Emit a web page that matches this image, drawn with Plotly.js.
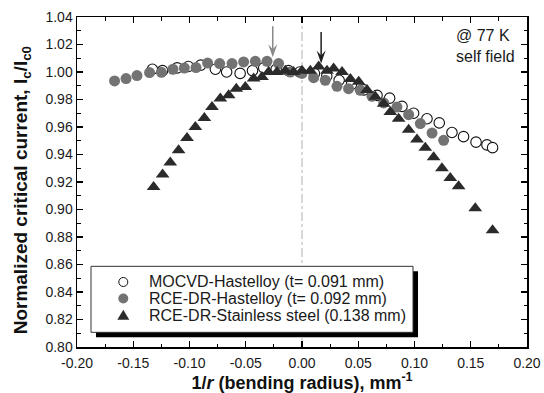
<!DOCTYPE html>
<html>
<head>
<meta charset="utf-8">
<script src="https://cdn.plot.ly/plotly-3.0.1.min.js"></script>
<style>html,body{margin:0;padding:0;background:#fff;}#chart{width:544px;height:393px;}</style>
</head>
<body>
<div id="chart"></div>
<script>
// ---- data ----
const seriesNames = [
  "MOCVD-Hastelloy (t= 0.091 mm)",
  "RCE-DR-Hastelloy (t= 0.092 mm)",
  "RCE-DR-Stainless steel (0.138 mm)"
];
const mocvdX = [-0.133,-0.124,-0.111,-0.101,-0.090,-0.077,-0.067,-0.055,-0.044,-0.034,-0.023,-0.012,-0.002,0.011,0.022,0.033,0.044,0.055,0.0667,0.0779,0.0889,0.0992,0.1111,0.122,0.1333,0.1436,0.1547,0.1644,0.1694];
const mocvdY = [1.002,1.001,1.003,1.004,1.005,1.002,1.000,0.999,1.001,1.003,1.002,1.001,1.000,0.999,0.997,0.994,0.991,0.987,0.983,0.981,0.975,0.970,0.966,0.963,0.956,0.953,0.949,0.947,0.945];
const rceHastX = [-0.1666,-0.1564,-0.1467,-0.1355,-0.125,-0.1147,-0.1046,-0.0942,-0.0839,-0.0732,-0.0622,-0.0519,-0.0415,-0.0311,-0.0208,-0.0104,0.0,0.0103,0.0207,0.0311,0.0414,0.0518,0.0622,0.0726,0.0844,0.0948,0.1052,0.1156,0.1259];
const rceHastY = [0.9935,0.9952,0.9974,0.9996,0.9998,1.002,1.0029,1.0032,1.0065,1.0061,1.0061,1.0073,1.0078,1.0078,1.0061,1.000,0.999,0.9959,0.994,0.9896,0.9879,0.9867,0.9823,0.9775,0.9745,0.969,0.9625,0.9556,0.9503];
const rceSSX = [-0.1319,-0.1239,-0.1171,-0.1097,-0.1022,-0.0948,-0.0868,-0.0800,-0.0726,-0.0652,-0.0584,-0.0504,-0.0430,-0.0356,-0.0297,-0.0222,-0.0148,-0.0075,0.0,0.0074,0.0148,0.0222,0.0281,0.0356,0.0430,0.0504,0.0578,0.0652,0.0726,0.0785,0.0859,0.0948,0.1022,0.1096,0.1170,0.1244,0.1318,0.1392,0.1540,0.1694];
const rceSSY = [0.9164,0.9254,0.9341,0.9431,0.952,0.960,0.9665,0.9745,0.9807,0.9831,0.9879,0.9891,0.9952,0.9964,1.000,1.000,1.001,1.000,1.001,1.001,1.004,1.001,1.0025,1.000,0.995,0.993,0.987,0.982,0.977,0.971,0.966,0.958,0.951,0.945,0.938,0.930,0.923,0.917,0.901,0.885];
// peak arrows: x position, tip value and tail value (gray = RCE-DR-Hastelloy, black = stainless)
const arrowX = [-0.026, 0.017];
const arrowTipY = [1.0107, 1.0061];
const arrowTailY = [1.0332, 1.0291];
const xTickVals = [-0.20,-0.15,-0.10,-0.05,0.00,0.05,0.10,0.15,0.20];
const xTickText = ["-0.20","-0.15","-0.10","-0.05","0.00","0.05","0.10","0.15","0.20"];
const conditionText = ["@ 77 K", "self field"];

const FONT = "Liberation Sans, Arial, Helvetica, sans-serif";
const GRAY = "#737373", DARK = "#2b2b2b";

const traces = [
  {x: mocvdX, y: mocvdY, name: seriesNames[0], type: "scatter", mode: "markers",
   marker: {symbol: "circle", size: 10.5, color: "#ffffff", line: {color: "#111", width: 1.1}}},
  {x: rceHastX, y: rceHastY, name: seriesNames[1], type: "scatter", mode: "markers",
   marker: {symbol: "circle", size: 11, color: GRAY, line: {width: 0}}},
  {x: rceSSX, y: rceSSY, name: seriesNames[2], type: "scatter", mode: "markers",
   marker: {symbol: "triangle-up", size: 12, color: DARK, line: {width: 0}}}
];

// legend block (drawn as shapes + text), positions in paper units
const legBox = {x0: 0.0311, x1: 0.7467, y0: 0.0445, y1: 0.2445};
const legRowsY = [0.197, 0.1467, 0.096];
const legSymX = 0.1029, legTextX = 0.1549;

const arrowColors = ["#8a8a8a", "#1e1e1e"];
const shapes = [
  {type: "line", xref: "x", yref: "paper", x0: 0, x1: 0, y0: 0, y1: 1,
   line: {color: "#c4c4c4", width: 1.3, dash: "dashdot"}, layer: "below"},
  {type: "rect", xref: "paper", yref: "paper", x0: legBox.x0 + 0.0111, x1: legBox.x1 + 0.0111,
   y0: legBox.y0 - 0.0152, y1: legBox.y1 - 0.0152, fillcolor: "#000", line: {width: 0}, layer: "above"},
  {type: "rect", xref: "paper", yref: "paper", x0: legBox.x0, x1: legBox.x1, y0: legBox.y0, y1: legBox.y1,
   fillcolor: "#fff", line: {color: "#333", width: 1}, layer: "above"},
  {type: "circle", xref: "paper", yref: "paper", xsizemode: "pixel", ysizemode: "pixel",
   xanchor: legSymX, yanchor: legRowsY[0], x0: -4.5, x1: 4.5, y0: -4.5, y1: 4.5,
   fillcolor: "#fff", line: {color: "#111", width: 1}, layer: "above"},
  {type: "circle", xref: "paper", yref: "paper", xsizemode: "pixel", ysizemode: "pixel",
   xanchor: legSymX, yanchor: legRowsY[1], x0: -5, x1: 5, y0: -5, y1: 5,
   fillcolor: GRAY, line: {width: 0}, layer: "above"},
  {type: "path", xref: "paper", yref: "paper", xsizemode: "pixel", ysizemode: "pixel",
   xanchor: legSymX, yanchor: legRowsY[2], path: "M-6,-4.5 L6,-4.5 L0,5.5 Z",
   fillcolor: DARK, line: {width: 0}, layer: "above"}
];
arrowX.forEach((ax, i) => {
  shapes.push({type: "line", xref: "x", yref: "y", x0: ax, x1: ax, y0: arrowTipY[i] + 0.004, y1: arrowTailY[i],
    line: {color: arrowColors[i], width: 1.5}, layer: "above"});
  shapes.push({type: "path", xref: "x", yref: "y", xsizemode: "pixel", ysizemode: "pixel",
    xanchor: ax, yanchor: arrowTipY[i], path: "M-4.5,13 L0,8 L4.5,13 L0,0 Z",
    fillcolor: arrowColors[i], line: {width: 0}, layer: "above"});
});

const annotations = [];
seriesNames.forEach((n, i) => annotations.push({
  xref: "paper", yref: "paper", x: legTextX, y: legRowsY[i], xanchor: "left", yanchor: "middle",
  text: n, showarrow: false, font: {family: FONT, size: 16, color: "#1a1a1a"}
}));
annotations.push({
  xref: "paper", yref: "paper", x: 0.8378, y: 0.9127, xanchor: "left", yanchor: "middle", align: "left",
  text: conditionText.join("<br>"), showarrow: false, font: {family: FONT, size: 16, color: "#1a1a1a"}
});
// y-axis title (placed as rotated text to match the reference position)
annotations.push({
  xref: "paper", yref: "paper", x: -0.1222, y: 0.4748, xanchor: "center", yanchor: "middle",
  textangle: -90, showarrow: false,
  text: "<b>Normalized critical current, I<sub>c</sub>/I<sub>c0</sub></b>",
  font: {family: FONT, size: 19, color: "#111"}
});

const axisCommon = {
  showgrid: false, zeroline: false, showline: true, linecolor: "#000", linewidth: 1.5,
  mirror: "ticks", ticks: "inside", ticklen: 6, tickwidth: 1.2, tickcolor: "#000",
  tickfont: {family: FONT, size: 14, color: "#1a1a1a"}
};

const layout = {
  width: 544, height: 393,
  margin: {l: 77, r: 17, t: 17, b: 46},
  paper_bgcolor: "#fff", plot_bgcolor: "#fff",
  showlegend: false,
  xaxis: Object.assign({}, axisCommon, {
    range: [-0.2, 0.2], tickmode: "array", tickvals: xTickVals, ticktext: xTickText,
    ticklabelstandoff: 3,
    minor: {tickmode: "linear", tick0: -0.2, dtick: 0.025, ticks: "inside", ticklen: 3.5, tickcolor: "#000", tickwidth: 1.2},
    title: {text: "<b>1/<i>r</i> (bending radius), mm<sup>-1</sup></b>", font: {family: FONT, size: 18, color: "#111"}, standoff: 4}
  }),
  yaxis: Object.assign({}, axisCommon, {
    range: [0.80, 1.04], dtick: 0.02, tick0: 0.8, tickformat: ".2f",
    minor: {tickmode: "linear", tick0: 0.8, dtick: 0.01, ticks: "inside", ticklen: 3.5, tickcolor: "#000", tickwidth: 1.2}
  }),
  shapes: shapes,
  annotations: annotations
};

Plotly.newPlot("chart", traces, layout, {staticPlot: true, displayModeBar: false});
</script>
</body>
</html>
